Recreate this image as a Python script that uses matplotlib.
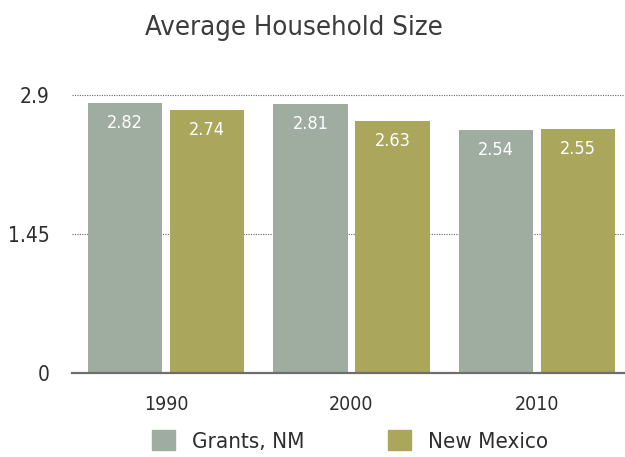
import numpy as np
import matplotlib
matplotlib.use("Agg")
import matplotlib.pyplot as plt
from matplotlib.patches import Patch

plt.rcParams['font.family'] = ['DejaVu Sans']

years = ["1990", "2000", "2010"]
series_names = ["Grants, NM", "New Mexico"]
grants = [2.82, 2.81, 2.54]
new_mexico = [2.74, 2.63, 2.55]
ytick_values = [0, 1.45, 2.9]
ytick_labels = ["0", "1.45", "2.9"]

c_grants = "#9fada1"
c_nm = "#aaa65c"
txt = "#2e2e2e"

fig = plt.figure(figsize=(6.25, 4.57), dpi=100)
ax = fig.add_axes([0.115, 0.184, 0.885, 0.608])

x = np.arange(len(years))
w = 0.40
off = 0.221
b1 = ax.bar(x - off, grants, w, color=c_grants, zorder=2)
b2 = ax.bar(x + off, new_mexico, w, color=c_nm, zorder=2)

for bars, vals in ((b1, grants), (b2, new_mexico)):
    for b, v in zip(bars, vals):
        ax.annotate(f"{v:.2f}", (b.get_x() + b.get_width() / 2, v),
                    xytext=(0, -8), textcoords="offset points",
                    ha="center", va="top", color="white", fontsize=13,
                    fontstretch="condensed", zorder=3)

ax.set_xlim(-0.507, 2.474)
ax.set_ylim(0, 2.9)
for yv in ytick_values[1:]:
    ax.axhline(yv, color="#666666", lw=0.8, ls=(0, (1, 1.2)), zorder=1, clip_on=False)

ax.set_yticks(ytick_values)
ax.set_yticklabels(ytick_labels)
ax.set_xticks(x)
ax.set_xticklabels(years)
ax.tick_params(axis="y", length=0, pad=16, labelsize=15, labelcolor=txt)
ax.tick_params(axis="x", length=0, pad=16, labelsize=14, labelcolor=txt)
for lab in ax.get_yticklabels() + ax.get_xticklabels():
    lab.set_fontstretch("condensed")

for s in ("top", "right", "left"):
    ax.spines[s].set_visible(False)
ax.spines["bottom"].set_color("#6e6e6e")
ax.spines["bottom"].set_linewidth(1.6)
ax.spines["bottom"].set_zorder(4)

fig.text(0.47, 0.938, "Average Household Size", ha="center", va="center",
         fontsize=19.7, color="#3c3c3c", fontstretch="condensed")

handles = [Patch(color=c_grants), Patch(color=c_nm)]
leg = fig.legend(handles, series_names, ncol=2, loc="center left",
                 bbox_to_anchor=(0.225, 0.035), frameon=False,
                 fontsize=16, handlelength=1.05, handleheight=0.95,
                 handletextpad=0.75, columnspacing=3.75, borderpad=0)
for t in leg.get_texts():
    t.set_color(txt)
    t.set_fontstretch("condensed")

fig.savefig("out.png", dpi=100, facecolor="white")
